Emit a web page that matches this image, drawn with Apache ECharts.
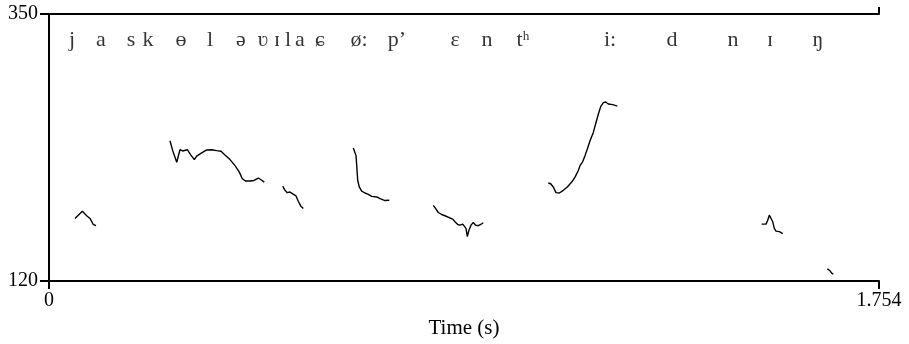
<!DOCTYPE html>
<html>
<head>
<meta charset="utf-8">
<script src="https://cdn.jsdelivr.net/npm/echarts@6/dist/echarts.min.js"></script>
<style>
  html, body { margin: 0; padding: 0; background: #fff; }
  #chart { width: 909px; height: 344px; }
</style>
</head>
<body>
<div id="chart"></div>
<script>
// pitch track pieces, [time (s), F0 (Hz)]
var seg1 = [[0.0549,173.9],[0.0704,180.1],[0.0797,176.2],[0.0866,173.9],[0.0936,168.7],[0.0993,167.6]];
var seg2 = [[0.2557,240.8],[0.2614,232.3],[0.2699,222.3],[0.2768,233.1],[0.2825,232.0],[0.2923,233.1],
  [0.2995,228.6],[0.3071,224.6],[0.3121,227.5],[0.3227,230.3],[0.3333,232.9],[0.3438,233.1],[0.3544,232.3],
  [0.3635,231.8],[0.3719,228.6],[0.3825,224.6],[0.3931,219.4],[0.4022,213.8],[0.4085,208.1],[0.4157,206.1],
  [0.4248,206.1],[0.4332,206.6],[0.4423,208.7],[0.4480,207.2],[0.4550,205.2]];
var seg3 = [[0.4939,201.8],[0.4987,198.1],[0.5036,196.1],[0.5093,196.7],[0.5150,195.0],[0.5220,193.3],
  [0.5268,188.7],[0.5319,184.7],[0.5374,182.4]];
var seg4 = [[0.6431,234.6],[0.6473,234.3],[0.6488,228.0],[0.6503,219.4],[0.6524,206.6],[0.6557,201.0],
  [0.6608,197.5],[0.6678,195.8],[0.6748,194.6],[0.6820,192.9],[0.6925,192.4],[0.6995,191.0],[0.7101,189.3],
  [0.7191,189.5]];
var seg5 = [[0.8121,185.2],[0.8172,182.4],[0.8227,179.0],[0.8299,177.3],[0.8368,176.2],[0.8459,174.5],
  [0.8531,173.3],[0.8580,171.0],[0.8637,168.7],[0.8686,168.1],[0.8743,169.0],[0.8777,170.4],[0.8812,165.3],
  [0.8840,158.2],[0.8876,163.9],[0.8918,168.1],[0.8967,170.4],[0.9017,168.1],[0.9072,167.6],[0.9123,168.7],
  [0.9178,170.2]];
var seg6 = [[1.0552,204.4],[1.0602,203.8],[1.0657,201.0],[1.0714,196.1],[1.0784,195.8],[1.0869,198.1],
  [1.0953,201.0],[1.1046,205.2],[1.1116,209.5],[1.1186,215.2],[1.1222,219.4],[1.1279,222.9],[1.1327,228.0],
  [1.1376,233.7],[1.1433,240.8],[1.1503,248.0],[1.1560,256.5],[1.1608,263.6],[1.1659,270.2],[1.1714,273.6],
  [1.1765,274.2],[1.1820,272.5],[1.1913,271.9],[1.2010,270.7]];
var seg7 = [[1.5061,169.0],[1.5152,169.0],[1.5188,172.4],[1.5222,176.7],[1.5258,175.3],[1.5294,171.0],
  [1.5328,165.3],[1.5364,163.0],[1.5433,162.5],[1.5505,160.8]];
var seg8 = [[1.6448,130.5],[1.6505,128.8],[1.6540,126.8],[1.6575,126.0]];

var phones = ["j","a","s","k","ɵ","l","ə","ʋ","ɪ","l","a","ɕ","ø:","pʼ","ɛ","n","tʰ","i:","d","n","ɪ","ŋ"];
var phoneTimes = [0.0486,0.1099,0.1733,0.2092,0.2790,0.3402,0.4057,0.4522,0.4818,0.5051,0.5304,0.5727,
  0.6551,0.7354,0.8580,0.9256,1.0017,1.1856,1.3166,1.4455,1.5237,1.6251];

var xTicks = [0, 1.754];
var yTicks = [120, 350];

var chart = echarts.init(document.getElementById('chart'));
var font = '"Liberation Serif", "DejaVu Serif", serif';
var labelY = 327.5;

var pieces = [seg1, seg2, seg3, seg4, seg5, seg6, seg7, seg8];
var series = pieces.map(function (d) {
  return {
    type: 'line', data: d, showSymbol: false, symbol: 'none',
    lineStyle: { color: '#000', width: 1.4 }, silent: true
  };
});
series.push({
  type: 'scatter', symbolSize: 0, silent: true,
  data: phones.map(function (p, i) { return { name: p, value: [phoneTimes[i], labelY] }; }),
  label: {
    show: true, position: 'inside', color: '#000', fontSize: 22, fontFamily: font,
    formatter: function (p) { return p.name; }
  }
});

var axisLine = { show: true, lineStyle: { color: '#000', width: 2 } };

chart.setOption({
  animation: false,
  grid: { left: 49, right: 30, top: 14, bottom: 61, containLabel: false },
  xAxis: [{
    type: 'value', min: 0, max: 1.754, position: 'bottom',
    name: 'Time (s)', nameLocation: 'middle', nameGap: 37,
    nameTextStyle: { color: '#000', fontSize: 21, fontFamily: font },
    axisLine: axisLine,
    axisTick: { show: true, customValues: xTicks, length: 8, lineStyle: { color: '#000', width: 2 } },
    axisLabel: { customValues: xTicks, color: '#000', fontSize: 20, fontFamily: font, margin: 10,
      formatter: function (v) { return String(v); } },
    splitLine: { show: false }
  }, {
    type: 'value', min: 0, max: 1.754, position: 'top',
    axisLine: axisLine,
    axisTick: { show: true, customValues: [1.754], length: 7, lineStyle: { color: '#000', width: 2 } },
    axisLabel: { show: false },
    splitLine: { show: false }
  }],
  yAxis: [{
    type: 'value', min: 120, max: 350, position: 'left',
    axisLine: axisLine,
    axisTick: { show: true, customValues: yTicks, length: 9, lineStyle: { color: '#000', width: 2 } },
    axisLabel: { customValues: yTicks, color: '#000', fontSize: 20, fontFamily: font, margin: 11 },
    splitLine: { show: false }
  }, {
    type: 'value', min: 120, max: 350, position: 'right',
    axisLine: axisLine, axisTick: { show: false }, axisLabel: { show: false },
    splitLine: { show: false }
  }],
  series: series
});
</script>
</body>
</html>
